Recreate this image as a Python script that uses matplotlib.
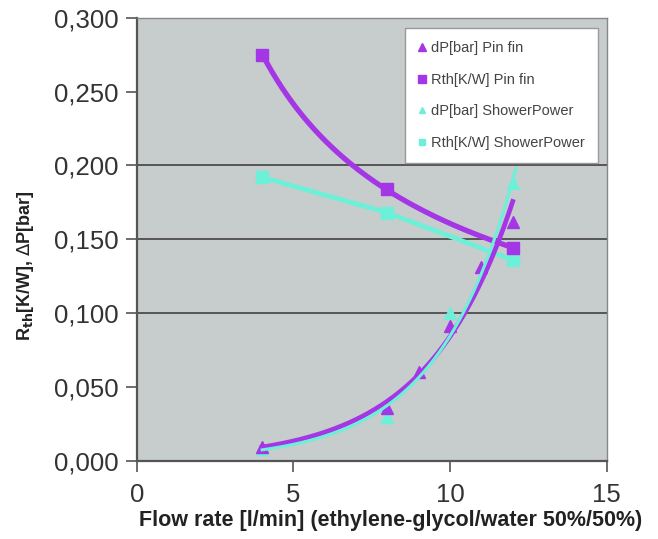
import numpy as np
import matplotlib
matplotlib.use("Agg")
import matplotlib.pyplot as plt
from matplotlib.ticker import FuncFormatter

# flow rate [l/min]
flow = [4, 8, 12]
flow_dp_pin = [4, 8, 9, 10, 11, 12]
flow_dp_sp = [4, 8, 10, 12]

rth_pin = [0.275, 0.184, 0.144]
rth_sp = [0.192, 0.168, 0.136]
dp_pin = [0.0095, 0.036, 0.060, 0.091, 0.131, 0.162]
dp_sp = [0.008, 0.030, 0.100, 0.188]

grid_vals = [0.10, 0.15, 0.20]

PURPLE = "#A436E6"
CYAN = "#6CF0D8"
BG = "#C6CDCC"

plt.rcParams["font.family"] = ["Liberation Sans", "DejaVu Sans"]

fig = plt.figure(figsize=(6.58, 5.39), dpi=100)
ax = fig.add_axes([0.208, 0.145, 0.714, 0.822])
ax.set_facecolor(BG)

for g in grid_vals:
    ax.axhline(g, color="#555555", linewidth=1.4, zorder=1)

# trendlines (fitted like Excel: power for Rth pin fin, exponential for dP)
xs = np.linspace(min(flow), max(flow), 200)
b, a = np.polyfit(np.log(flow), np.log(rth_pin), 1)
ax.plot(xs, np.exp(a) * xs ** b, color=PURPLE, linewidth=3.8, zorder=3)
ax.plot(flow, rth_sp, color=CYAN, linewidth=3.4, zorder=2)
b, a = np.polyfit(flow_dp_pin, np.log(dp_pin), 1)
ax.plot(xs, np.exp(a + b * xs), color=PURPLE, linewidth=3.4, zorder=5)
b, a = np.polyfit(flow_dp_sp, np.log(dp_sp), 1)
xs2 = np.linspace(min(flow_dp_sp), max(flow_dp_sp) + 0.1, 200)
ax.plot(xs2, np.exp(a + b * xs2), color=CYAN, linewidth=2.2, zorder=6)

# markers
ax.plot(flow_dp_pin, dp_pin, linestyle="none", marker="^", markersize=9,
        color=PURPLE, zorder=4, label="dP[bar] Pin fin")
ax.plot(flow, rth_pin, linestyle="none", marker="s", markersize=9,
        color=PURPLE, zorder=4, label="Rth[K/W] Pin fin")
ax.plot(flow_dp_sp, dp_sp, linestyle="none", marker="^", markersize=8,
        color=CYAN, zorder=3, label="dP[bar] ShowerPower")
ax.plot(flow, rth_sp, linestyle="none", marker="s", markersize=8,
        color=CYAN, zorder=2, label="Rth[K/W] ShowerPower")

ax.set_xlim(0, 15)
ax.set_ylim(0, 0.3)
ax.set_xticks([0, 5, 10, 15])
ax.set_yticks(np.arange(0, 0.301, 0.05))
ax.yaxis.set_major_formatter(FuncFormatter(lambda v, p: f"{v:.3f}".replace(".", ",")))

for s in ["top", "right"]:
    ax.spines[s].set_color("#888888")
    ax.spines[s].set_linewidth(1.0)
for s in ["left", "bottom"]:
    ax.spines[s].set_color("#555555")
    ax.spines[s].set_linewidth(1.6)

ax.tick_params(axis="both", direction="out", length=8, width=1.2,
               color="#555555", labelsize=18.5, labelcolor="#333333")
ax.tick_params(axis="y", pad=5)
ax.tick_params(axis="x", pad=8)

ax.set_xlabel("Flow rate [l/min] (ethylene-glycol/water 50%/50%)",
              fontsize=15.5, fontweight="bold", color="#222222")
ax.xaxis.set_label_coords(0.54, -0.112)
ax.set_ylabel(r"R$_{\mathbf{th}}$[K/W], $\Delta$P[bar]", fontsize=13,
              fontweight="bold", color="#222222")
ax.yaxis.set_label_coords(-0.215, 0.44)

leg = ax.legend(loc="upper right", bbox_to_anchor=(0.997, 0.993), fontsize=10.5,
                frameon=True, fancybox=False, framealpha=1, edgecolor="#999999",
                handlelength=0.6, handletextpad=0.3, labelspacing=1.2,
                borderpad=0.9, markerscale=0.6)
for t in leg.get_texts():
    t.set_color("#444444")

fig.savefig("out.png", dpi=100)
